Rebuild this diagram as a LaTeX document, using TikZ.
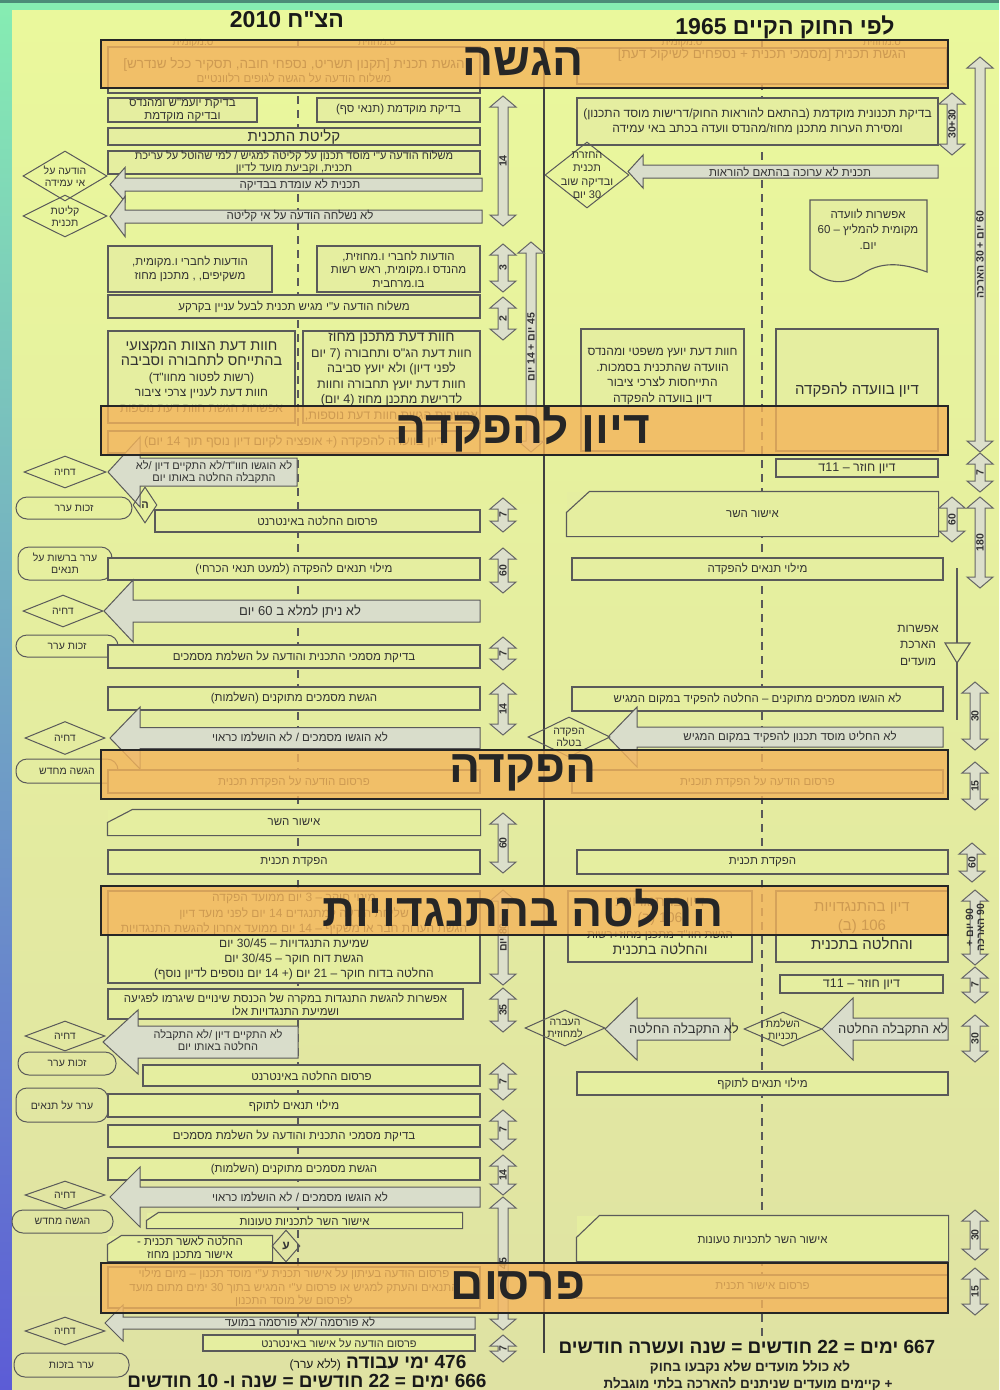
\documentclass[tikz,border=0pt]{standalone}
\usepackage{fontspec}
\setmainfont{Liberation Sans}[Script=Hebrew, Ligatures=TeXOff]
\TeXXeTstate=1
\usetikzlibrary{positioning, shapes.geometric}

\definecolor{panetop}{HTML}{EAF89C}
\definecolor{panebot}{HTML}{DFE2A3}
\definecolor{boxfill}{HTML}{E5EEA0}
\definecolor{boxline}{HTML}{5A5A5A}
\definecolor{inkgray}{HTML}{333333}
\definecolor{phaseorange}{HTML}{F4B45A}
\definecolor{flowgray}{HTML}{D9DDCB}
\definecolor{spanfill}{HTML}{DCDFCB}
\definecolor{spanline}{HTML}{666666}
\definecolor{stripgreen}{HTML}{86EDB2}
\definecolor{stripblue}{HTML}{5C5CD6}
\definecolor{topdark}{HTML}{4C8C78}

\newcommand{\heb}[1]{\beginR#1\endR}

% left pointing block arrow: tail x, head base x, tip x, centre y, body half, head half
\newcommand{\flowback}[6]{%
  \draw [backflow] (#1,#4-#5) -- (#2,#4-#5) -- (#2,#4-#6) -- (#3,#4)
    -- (#2,#4+#6) -- (#2,#4+#5) -- (#1,#4+#5) -- cycle;}
% duration arrow: name, x, top y, bottom y, label
\newcommand{\durarrow}[5]{%
  \draw [spanarrow] (#2-5,#3+11) -- (#2-13,#3+11) -- (#2,#3) -- (#2+13,#3+11) -- (#2+5,#3+11)
    -- (#2+5,#4-11) -- (#2+13,#4-11) -- (#2,#4) -- (#2-13,#4-11) -- (#2-5,#4-11) -- cycle;
  \node [spanlabel] (#1) at (#2,{(#3+#4)/2}) {#5};}

\tikzset{
every node/.style = {text = inkgray},
area/.style args = {#1/#2/#3/#4}{minimum width = #3-#1, minimum height = #4-#2,
   at = {({(#1+#3)/2},{(#2+#4)/2})}},
cell/.style = {rectangle, draw = boxline, line width = 1.1pt, fill = boxfill,
   inner sep = 0pt, align = center, font = \fontsize{11.5}{13.5}\selectfont},
bare/.style = {cell, draw = none},
phase/.style = {rectangle, draw = black!85, line width = 2.4pt, fill = phaseorange,
   fill opacity = 0.8, inner sep = 0pt},
phasename/.style = {font = \fontsize{46}{50}\selectfont\bfseries, text = black!85},
decision/.style = {diamond, draw = boxline, line width = 1pt, inner sep = 0pt},
dtext/.style = {align = center, inner sep = 0pt, font = \fontsize{10.5}{12}\selectfont},
appeal/.style = {rectangle, rounded corners = 11pt, draw = boxline, line width = 1pt,
   inner sep = 0pt, align = center, font = \fontsize{10.5}{12}\selectfont},
backflow/.style = {draw = boxline, line width = 1pt, fill = flowgray},
flowtext/.style = {align = center, inner sep = 0pt, font = \fontsize{11.5}{12.5}\selectfont},
spanarrow/.style = {draw = spanline, line width = 1pt, fill = spanfill},
spanlabel/.style = {rotate = 90, font = \fontsize{10.5}{11}\selectfont\bfseries,
   inner sep = 0pt, align = center},
axis/.style = {draw = black!75, line width = 1.3pt},
lane/.style = {draw = black!65, line width = 1.2pt, dash pattern = on 8pt off 6pt},
lawtitle/.style = {font = \fontsize{23}{26}\selectfont\bfseries, text = black!90},
colname/.style = {font = \fontsize{10}{12}\selectfont},
total/.style = {font = \fontsize{19}{22}\selectfont\bfseries, text = black!90},
note/.style = {font = \fontsize{13.5}{16}\selectfont\bfseries, text = black!85}
}

\begin{document}
\begin{tikzpicture}[x = 1pt, y = -1pt]
\useasboundingbox (0,0) rectangle (999,1390);

%% Background
\shade [top color = stripgreen, bottom color = stripblue] (0,0) rectangle (12,1390);
\shade [top color = panetop, bottom color = panebot] (12,10) rectangle (999,1390);
\fill [stripgreen] (12,0) rectangle (999,10);
\fill [topdark] (0,0) rectangle (999,3);

%% Titles
\node [lawtitle] (law2010) at (287,20) {\heb{הצ"ח 2010}};
\node [lawtitle] (law1965) at (785,27) {\heb{לפי החוק הקיים 1965}};

%% Lanes
\draw [axis] (544,40) -- (544,1353);
\draw [lane] (298,40) -- (298,1340);
\draw [lane] (762,40) -- (762,1337);

\node [colname] (loc10) at (193,43) {\heb{ס.מקומית}};
\node [colname] (dis10) at (377,43) {\heb{ס.מחוזית}};
\node [colname] (loc65) at (682,43) {\heb{ס.מקומית}};
\node [colname] (dis65) at (882,43) {\heb{ס.מחוזית}};

%% 2010 - submission
\node [cell, area = 108/47/480/93] (s1) {{\fontsize{13.5}{16}\selectfont\heb{הגשת תכנית [תקנון תשריט, נספחי חובה, תסקיר ככל שנדרש]}}\\\heb{משלוח הודעה על הגשה לגופים רלוונטיים}};
\node [cell, area = 108/98/257/122] (s2a) {\heb{בדיקת יועמ"ש ומהנדס}\\\heb{ובדיקה מוקדמת}};
\node [cell, area = 317/98/480/122] (s2b) {\heb{בדיקת מוקדמת (תנאי סף)}};
\node [cell, area = 108/128/480/145, font = \fontsize{15}{17}\selectfont] (s3) {\heb{קליטת התכנית}};
\node [cell, area = 108/151/480/174, font = \fontsize{11}{12}\selectfont] (s4) {\heb{משלוח הודעה ע"י מוסד תכנון על קליטה למגיש / למי שהוטל על עריכת}\\\heb{תכנית, וקביעת מועד לדיון}};

\flowback{482}{125}{110}{184.5}{6.5}{17}
\node [flowtext] (f1) at (300,185) {\heb{תכנית לא עומדת בבדיקה}};
\node [decision, minimum width = 84, minimum height = 50] (d1) at (65,176) {};
\node [dtext] (d1t) at (d1) {\heb{הודעה על}\\\heb{אי עמידה}};
\flowback{482}{125}{110}{216.5}{6.5}{20}
\node [flowtext] (f2) at (300,216) {\heb{לא נשלחה הודעה על אי קליטה}};
\node [decision, minimum width = 84, minimum height = 42] (d2) at (65,216) {};
\node [dtext] (d2t) at (d2) {\heb{קליטת}\\\heb{תכנית}};

\node [cell, area = 108/246/272/292] (s5a) {\heb{הודעות לחברי ו.מקומית,}\\\heb{משקיפים, , מתכנן מחוז}};
\node [cell, area = 317/246/480/292] (s5b) {\heb{הודעות לחברי ו.מחוזית,}\\\heb{מהנדס ו.מקומית, ראש רשות}\\\heb{בו.מרחבית}};
\node [cell, area = 108/295/480/318] (s6) {\heb{משלוח הודעה ע"י מגיש תכנית לבעל עניין בקרקע}};
\node [cell, area = 108/331/295/423, font = \fontsize{12}{15.5}\selectfont] (s7a) {{\fontsize{14.5}{18}\selectfont\heb{חוות דעת הצוות המקצועי}}\\{\fontsize{14.5}{18}\selectfont\heb{בהתייחס לתחבורה וסביבה}}\\\heb{(רשות לפטור מחוו"ד)}\\\heb{חוות דעת לעניין צרכי ציבור}\\\heb{אפשרות הגשת חוות דעת נוספות}};
\node [cell, area = 303/331/480/423, font = \fontsize{12.5}{15.5}\selectfont] (s7b) {{\fontsize{14}{16}\selectfont\heb{חוות דעת מתכנן מחוז}}\\\heb{חוות דעת הג"ס ותחבורה (7 יום}\\\heb{לפני דיון) ולא יועץ סביבה}\\\heb{חוות דעת יועץ תחבורה וחוות}\\\heb{לדרישת מתכנן מחוז (4 יום)}\\\heb{אפשרות הגשת חוות דעת נוספות,}};
\node [cell, area = 108/431/480/453, font = \fontsize{12.5}{14}\selectfont] (s8) {\heb{דיון בוועדה להפקדה (+ אופציה לקיום דיון נוסף תוך 14 יום)}};

%% 2010 - deposit
\flowback{297}{140}{108}{472}{14}{35}
\node [flowtext, font = \fontsize{11}{12}\selectfont] (f3) at (214,472) {\heb{לא הוגשו חוו"ד/לא התקיים דיון /לא}\\\heb{התקבלה החלטה באותו יום}};
\node [decision, minimum width = 82, minimum height = 32] (d3) at (65,472) {};
\node [dtext] (d3t) at (d3) {\heb{דחיה}};
\node [appeal, area = 16/497/132/519] (a1) {\heb{זכות ערר}};
\node [decision, minimum width = 24, minimum height = 36] (m1) at (145,505) {};
\node [dtext, font = \fontsize{11}{12}\selectfont\bfseries] (m1t) at (m1) {ה};
\node [cell, area = 155/510/480/532] (s9) {\heb{פרסום החלטה באינטרנט}};
\node [appeal, area = 18/547/112/580] (a2) {\heb{ערר ברשות על}\\\heb{תנאים}};
\node [cell, area = 108/558/480/580] (s10) {\heb{מילוי תנאים להפקדה (למעט תנאי הכרחי)}};
\flowback{480}{133}{104}{611}{11}{31}
\node [flowtext, font = \fontsize{13}{14}\selectfont] (f4) at (300,611) {\heb{לא ניתן למלא ב 60 יום}};
\node [decision, minimum width = 80, minimum height = 32] (d4) at (63,611) {};
\node [dtext] (d4t) at (d4) {\heb{דחיה}};
\node [appeal, area = 16/635/118/657] (a3) {\heb{זכות ערר}};
\node [cell, area = 108/645/480/668] (s11) {\heb{בדיקת מסמכי התכנית והודעה על השלמת מסמכים}};
\node [cell, area = 108/687/480/710] (s12) {\heb{הגשת מסמכים מתוקנים (השלמות)}};
\flowback{480}{140}{110}{738}{10.5}{31}
\node [flowtext] (f5) at (300,737) {\heb{לא הוגשו מסמכים / לא הושלמו כראוי}};
\node [decision, minimum width = 80, minimum height = 33] (d5) at (65,738) {};
\node [dtext] (d5t) at (d5) {\heb{דחיה}};
\node [appeal, area = 16/759/118/783] (a4) {\heb{הגשה מחדש}};
\node [cell, area = 108/770/480/793] (s13) {\heb{פרסום הודעה על הפקדת תכנית}};
\node [bare, area = 108/810/480/835] (s14) {\heb{אישור השר}};
\draw [boxline, line width = 1.1pt] ([yshift = -13pt]s14.north west) -- ([xshift = 25pt]s14.north west)
   -- (s14.north east) -- (s14.south east) -- (s14.south west) -- cycle;
\node [cell, area = 108/850/480/874] (s15) {\heb{הפקדת תכנית}};

%% 2010 - objections
\node [cell, area = 108/891/480/983, font = \fontsize{12}{15.2}\selectfont] (s16) {\heb{מינוי חוקר – 3 יום ממועד הפקדה}\\\heb{שליחת הודעה למתנגדים 14 יום לפני מועד דיון}\\\heb{הגשת הערות חבר או משקיף – 14 יום ממועד אחרון להגשת התנגדויות}\\\heb{שמיעת התנגדויות – 30/45 יום}\\\heb{הגשת דוח חוקר – 30/45 יום}\\\heb{החלטה בדוח חוקר – 21 יום (+ 14 יום נוספים לדיון נוסף)}};
\node [cell, area = 108/989/463/1019, font = \fontsize{11.5}{13}\selectfont] (s17) {\heb{אפשרות להגשת התנגדות במקרה של הכנסת שינויים שיגרמו לפגיעה}\\\heb{ושמיעת התנגדויות אלו}};
\flowback{298}{138}{103}{1042}{16}{32}
\node [flowtext, font = \fontsize{11}{12}\selectfont] (f6) at (218,1040) {\heb{לא התקיים דיון /לא התקבלה}\\\heb{החלטה באותו יום}};
\node [decision, minimum width = 80, minimum height = 30] (d6) at (65,1036) {};
\node [dtext] (d6t) at (d6) {\heb{דחיה}};
\node [appeal, area = 18/1052/116/1075] (a5) {\heb{זכות ערר}};
\node [cell, area = 143/1065/480/1086] (s18) {\heb{פרסום החלטה באינטרנט}};
\node [appeal, area = 16/1088/108/1122] (a6) {\heb{ערר על תנאים}};
\node [cell, area = 108/1094/480/1117] (s19) {\heb{מילוי תנאים לתוקף}};
\node [cell, area = 108/1125/480/1147] (s20) {\heb{בדיקת מסמכי התכנית והודעה על השלמת מסמכים}};
\node [cell, area = 108/1158/480/1180] (s21) {\heb{הגשת מסמכים מתוקנים (השלמות)}};
\flowback{480}{140}{110}{1197}{10}{30}
\node [flowtext] (f7) at (300,1197) {\heb{לא הוגשו מסמכים / לא הושלמו כראוי}};
\node [decision, minimum width = 80, minimum height = 28] (d7) at (65,1195) {};
\node [dtext] (d7t) at (d7) {\heb{דחיה}};
\node [appeal, area = 12/1210/113/1233] (a7) {\heb{הגשה מחדש}};
\node [bare, area = 147/1213/462/1228] (s22) {\heb{אישור השר לתכניות טעונות}};
\draw [boxline, line width = 1.1pt] ([yshift = -8pt]s22.north west) -- ([xshift = 12pt]s22.north west)
   -- (s22.north east) -- (s22.south east) -- (s22.south west) -- cycle;
\node [bare, area = 108/1237/272/1260] (s23) {\heb{החלטה לאשר תכנית -}\\\heb{אישור מתכנן מחוז}};
\draw [boxline, line width = 1.1pt] ([yshift = -9pt]s23.north west) -- ([xshift = 14pt]s23.north west)
   -- (s23.north east) -- (s23.south east) -- (s23.south west) -- cycle;
\node [decision, minimum width = 28, minimum height = 32] (m2) at (286,1246) {};
\node [dtext, font = \fontsize{12}{12}\selectfont\bfseries] (m2t) at (m2) {ע};

%% 2010 - publication
\node [cell, area = 108/1267/480/1308, font = \fontsize{11.5}{13.5}\selectfont] (s24) {\heb{פרסום הודעה בעיתון על אישור תכנית ע"י מוסד תכנון – מיום מילוי}\\\heb{התנאים והעתק למגיש או פרסום ע"י המגיש בתוך 30 ימים מתום מועד}\\\heb{לפרסום של מוסד התכנון}};
\flowback{475}{123}{105}{1323}{6}{18}
\node [flowtext] (f8) at (300,1322) {\heb{לא פורסמה /לא פורסמה במועד}};
\node [decision, minimum width = 80, minimum height = 28] (d8) at (65,1331) {};
\node [dtext] (d8t) at (d8) {\heb{דחיה}};
\node [appeal, area = 14/1353/129/1377] (a8) {\heb{ערר בזכות}};
\node [cell, area = 203/1335/475/1351, font = \fontsize{11}{12}\selectfont] (s25) {\heb{פרסום הודעה על אישור באינטרנט}};
\node [total] (sum2010a) at (378,1363) {\heb{476 ימי עבודה {\fontsize{12}{14}\selectfont\mdseries(ללא ערר)}}};
\node [total] (sum2010b) at (307,1381) {\heb{666 ימים = 22 חודשים = שנה ו- 10 חודשים}};

%% 2010 - durations
\durarrow{t1}{503}{96}{226}{14}
\durarrow{t2}{503}{244}{292}{3}
\durarrow{t3}{503}{297}{340}{2}
\durarrow{t4}{531}{242}{452}{\heb{45 יום + 14 יום}}
\durarrow{t5}{503}{498}{532}{7}
\durarrow{t6}{503}{548}{593}{60}
\durarrow{t7}{503}{637}{670}{7}
\durarrow{t8}{503}{683}{735}{14}
\durarrow{t9}{503}{813}{873}{60}
\durarrow{t10}{503}{890}{985}{\heb{80 יום}}
\durarrow{t11}{503}{988}{1032}{35}
\durarrow{t12}{503}{1063}{1100}{7}
\durarrow{t13}{503}{1110}{1150}{7}
\durarrow{t14}{503}{1155}{1195}{14}
\durarrow{t15}{503}{1197}{1330}{45}
\durarrow{t16}{503}{1335}{1362}{7}

%% 1965 - the existing law
\node [cell, area = 577/50/947/82, font = \fontsize{13.5}{16}\selectfont] (r1) {\heb{הגשת תכנית [מסמכי תכנית + נספחים לשיקול דעת]}\\[9pt]};
\node [cell, area = 577/98/938/145, font = \fontsize{12}{15}\selectfont] (r2) {\heb{בדיקת תכנונית מוקדמת (בהתאם להוראות החוק/דרישות מוסד התכנון)}\\\heb{ומסירת הערות מתכנן מחוז/מהנדס וועדה בכתב באי עמידה}};
\flowback{938}{643}{628}{171.5}{6.5}{16.5}
\node [flowtext] (g1) at (790,172) {\heb{תכנית לא ערוכה בהתאם להוראות}};
\node [decision, minimum width = 84, minimum height = 66] (e1) at (587,175) {};
\node [dtext, font = \fontsize{11}{13.5}\selectfont] (e1t) at (e1) {\heb{החזרת}\\\heb{תכנית}\\\heb{ובדיקה שוב}\\\heb{30 יום}};
\draw [boxline, line width = 1.1pt, fill = boxfill] (810,200) -- (927,200) -- (927,272)
   .. controls (900,262) and (880,262) .. (862,274) .. controls (842,287) and (825,282) .. (810,270) -- cycle;
\node [dtext, font = \fontsize{11.5}{15.5}\selectfont] (r3) at (868,229) {\heb{אפשרות לוועדה}\\\heb{מקומית להמליץ – 60}\\\heb{יום.}};
\node [cell, area = 581/329/744/451, font = \fontsize{12}{15.5}\selectfont] (r4) {\heb{חוות דעת יועץ משפטי ומהנדס}\\\heb{הוועדה שהתכנית בסמכות.}\\\heb{התייחסות לצרכי ציבור}\\\heb{דיון בוועדה להפקדה}\\[14pt]};
\node [cell, area = 776/329/938/451, font = \fontsize{15}{17}\selectfont] (r5) {\heb{דיון בוועדה להפקדה}};
\node [cell, area = 776/459/938/477, font = \fontsize{12.5}{14}\selectfont] (r6) {\heb{דיון חוזר – 11ד}};
\node [bare, area = 567/492/938/536] (r7) {\heb{אישור השר}};
\draw [boxline, line width = 1.1pt] ([yshift = -21pt]r7.north west) -- ([xshift = 23pt]r7.north west)
   -- (r7.north east) -- (r7.south east) -- (r7.south west) -- cycle;
\node [cell, area = 572/558/943/580] (r8) {\heb{מילוי תנאים להפקדה}};
\coordinate (ext1) at (957,568);
\coordinate (ext2) at (957,720);
\draw [boxline, line width = 1.1pt] (ext1) -- (ext2);
\draw [boxline, line width = 1.1pt, fill = boxfill] (945,643) -- (970,643) -- (957,663) -- cycle;
\node [dtext, font = \fontsize{12}{16.5}\selectfont] (r9) at (918,645) {\heb{אפשרות}\\\heb{הארכת}\\\heb{מועדים}};
\node [cell, area = 572/687/943/711] (r10) {\heb{לא הוגשו מסמכים מתוקנים – החלטה להפקיד במקום המגיש}};
\flowback{943}{637}{608}{737}{10}{30}
\node [flowtext] (g2) at (790,737) {\heb{לא החליט מוסד תכנון להפקיד במקום המגיש}};
\node [decision, minimum width = 82, minimum height = 40] (e2) at (569,737) {};
\node [dtext] (e2t) at (e2) {\heb{הפקדה}\\\heb{בטלה}};
\node [cell, area = 572/770/943/793] (r11) {\heb{פרסום הודעה על הפקדת תוכנית}};
\node [cell, area = 577/850/948/874] (r12) {\heb{הפקדת תכנית}};
\node [cell, area = 568/891/752/962, font = \fontsize{11.5}{16}\selectfont] (r13) {{\fontsize{14}{17}\selectfont\heb{דיון בהתנגדויות}}\\{\fontsize{14}{17}\selectfont\heb{106 (ב)}}\\\heb{הגשת חוו"ד מתכנן מחוז+רשות}\\{\fontsize{14}{17}\selectfont\heb{והחלטה בתכנית}}};
\node [cell, area = 776/891/948/962, font = \fontsize{15}{19}\selectfont] (r14) {\heb{דיון בהתנגדויות}\\\heb{106 (ב)}\\\heb{והחלטה בתכנית}};
\node [cell, area = 780/975/943/993, font = \fontsize{12.5}{14}\selectfont] (r15) {\heb{דיון חוזר – 11ד}};
\flowback{730}{637}{605}{1029}{11}{31}
\node [flowtext, font = \fontsize{13}{14}\selectfont] (g3) at (684,1029) {\heb{לא התקבלה החלטה}};
\node [decision, minimum width = 80, minimum height = 36] (e3) at (565,1028) {};
\node [dtext] (e3t) at (e3) {\heb{העברה}\\\heb{למחוזית}};
\flowback{948}{853}{822}{1029}{11}{31}
\node [flowtext, font = \fontsize{13}{14}\selectfont] (g4) at (893,1029) {\heb{לא התקבלה החלטה}};
\node [decision, minimum width = 78, minimum height = 34] (e4) at (783,1029) {};
\node [dtext] (e4t) at (e4) {\heb{השלמת}\\\heb{תכניות}};
\node [cell, area = 577/1072/948/1095] (r16) {\heb{מילוי תנאים לתוקף}};
\node [bare, area = 577/1216/948/1261] (r17) {\heb{אישור השר לתכניות טעונות}};
\draw [boxline, line width = 1.1pt] ([yshift = -22pt]r17.north west) -- ([xshift = 23pt]r17.north west)
   -- (r17.north east) -- (r17.south east) -- (r17.south west) -- cycle;
\node [cell, area = 577/1275/948/1298] (r18) {\heb{פרסום אישור תכנית}};
\node [total] (sum1965a) at (747,1347) {\heb{667 ימים = 22 חודשים = שנה ועשרה חודשים}};
\node [note] (sum1965b) at (750,1367) {\heb{לא כולל מועדים שלא נקבעו בחוק}};
\node [note] (sum1965c) at (748,1384) {\heb{+ קיימים מועדים שניתנים להארכה בלתי מוגבלת}};

%% 1965 - durations
\durarrow{u1}{952}{93}{155}{30+30}
\durarrow{u2}{980}{57}{452}{\heb{60 יום + 30 הארכה}}
\durarrow{u3}{980}{453}{492}{7}
\durarrow{u4}{952}{497}{542}{60}
\durarrow{u5}{980}{497}{588}{180}
\durarrow{u6}{975}{682}{750}{30}
\durarrow{u7}{975}{762}{810}{15}
\durarrow{u8}{972}{843}{882}{60}
\durarrow{u9}{975}{890}{965}{\heb{90 יום +}\\\heb{90 הארכה}}
\durarrow{u10}{975}{967}{1003}{7}
\durarrow{u11}{975}{1015}{1062}{30}
\durarrow{u12}{975}{1210}{1260}{30}
\durarrow{u13}{975}{1268}{1315}{15}

%% Phases
\node [phase, area = 101/40/948/88] (ph1) {};
\node [phase, area = 101/406/948/455] (ph2) {};
\node [phase, area = 101/750/948/799] (ph3) {};
\node [phase, area = 101/886/948/935] (ph4) {};
\node [phase, area = 101/1263/948/1313] (ph5) {};
\node [phasename] (ph1n) at (523,62) {\heb{הגשה}};
\node [phasename] (ph2n) at (523,429) {\heb{דיון להפקדה}};
\node [phasename] (ph3n) at (523,773) {\heb{הפקדה}};
\node [phasename] (ph4n) at (523,908) {\heb{החלטה בהתנגדויות}};
\node [phasename] (ph5n) at (518,1286) {\heb{פרסום}};

\end{tikzpicture}
\end{document}
